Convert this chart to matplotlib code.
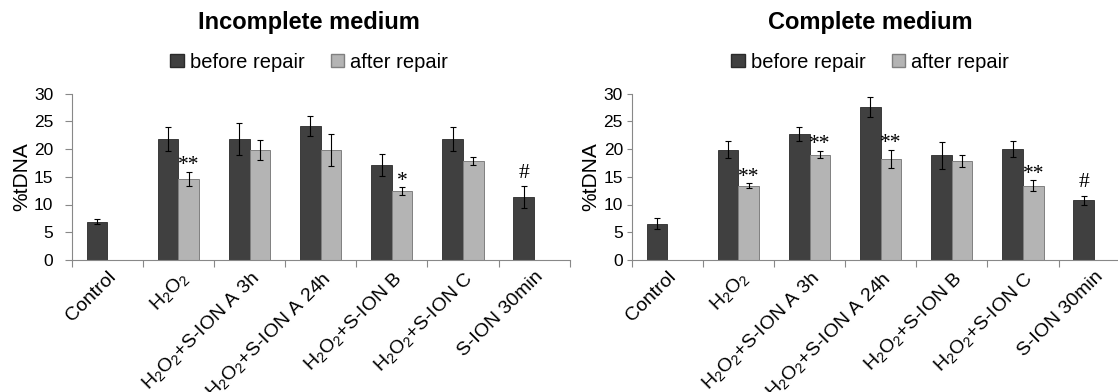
import matplotlib
matplotlib.use("Agg")
import matplotlib.pyplot as plt
import matplotlib.patches as mpatches
import numpy as np

plt.rcParams['font.family'] = ['Liberation Sans', 'DejaVu Sans']
plt.rcParams['mathtext.fontset'] = 'custom'
plt.rcParams['mathtext.rm'] = 'Liberation Sans'

# data
labels = ['Control', r'$\mathregular{H_2O_2}$',
          r'$\mathregular{H_2O_2}$+S-ION A 3h', r'$\mathregular{H_2O_2}$+S-ION A 24h',
          r'$\mathregular{H_2O_2}$+S-ION B', r'$\mathregular{H_2O_2}$+S-ION C', 'S-ION 30min']

inc_before = [6.9, 21.8, 21.8, 24.1, 17.1, 21.8, 11.3]
inc_before_err = [0.5, 2.2, 2.8, 1.8, 2.0, 2.2, 2.0]
inc_after = [np.nan, 14.6, 19.8, 19.8, 12.4, 17.8, np.nan]
inc_after_err = [np.nan, 1.3, 1.8, 2.9, 0.7, 0.7, np.nan]
inc_marks = [(1, 'after', '**'), (4, 'after', '*'), (6, 'before', '#')]

com_before = [6.5, 19.9, 22.7, 27.6, 18.85, 20.0, 10.8]
com_before_err = [1.0, 1.5, 1.2, 1.8, 2.5, 1.5, 0.8]
com_after = [np.nan, 13.4, 19.0, 18.25, 17.9, 13.4, np.nan]
com_after_err = [np.nan, 0.45, 0.7, 1.6, 1.1, 0.95, np.nan]
com_marks = [(1, 'after', '**'), (2, 'after', '**'), (3, 'after', '**'),
             (5, 'after', '**'), (6, 'before', '#')]

dark = '#404040'
light = '#b4b4b4'
spine = '#888888'
w = 0.29
mark_lift = {'*': 1, '**': 1, '#': 6}

W, H = 1118, 392
fig = plt.figure(figsize=(W / 100, H / 100), dpi=100)


def panel(left, title, before, before_err, after, after_err, marks, tx,
          ytick_len, ytick_pad):
    ax = fig.add_axes([left / W, 1 - 260 / H, 498 / W, 166.5 / H])
    x = np.arange(len(labels)) + 0.5
    ax.bar(x - w / 2, before, w, color=dark, edgecolor='#2a2a2a', linewidth=0.6, zorder=2)
    ax.bar(x + w / 2, after, w, color=light, edgecolor='#808080', linewidth=0.7, zorder=2)
    ekw = dict(fmt='none', ecolor='black', elinewidth=0.8, capsize=2.5, capthick=0.8, zorder=3)
    ax.errorbar(x - w / 2, before, yerr=before_err, **ekw)
    ax.errorbar(x + w / 2, after, yerr=after_err, **ekw)
    for i, which, sym in marks:
        if which == 'after':
            xx, yy = x[i] + w / 2, after[i] + after_err[i]
        else:
            xx, yy = x[i] - w / 2, before[i] + before_err[i]
        ax.annotate(sym, (xx, yy), xytext=(0, mark_lift[sym]), textcoords='offset points',
                    ha='center', va='baseline', fontsize=15.5, family='Liberation Serif')
    ax.set_xlim(0, len(labels))
    ax.set_ylim(0, 30)
    ax.set_yticks(np.arange(0, 31, 5))
    ax.set_xticks(np.arange(len(labels) + 1))
    ax.set_xticklabels([])
    ax.set_xticks(x, minor=True)
    ax.set_xticklabels(labels, minor=True, rotation=45, ha='right',
                       rotation_mode='anchor', fontsize=14)
    ax.tick_params(axis='x', which='minor', length=0, pad=6)
    ax.tick_params(axis='x', which='major', length=5, color=spine, direction='out')
    ax.tick_params(axis='y', length=ytick_len, color=spine, labelsize=12.5, pad=ytick_pad)
    for s in ['top', 'right']:
        ax.spines[s].set_visible(False)
    for s in ['left', 'bottom']:
        ax.spines[s].set_color(spine)
    ax.set_ylabel('%tDNA', fontsize=15, labelpad=2)
    fig.text(tx, 1 - 23 / H, title, ha='center', va='center',
             fontsize=17, fontweight='bold')
    handles = [mpatches.Patch(facecolor=dark, edgecolor='#2a2a2a', label='before repair'),
               mpatches.Patch(facecolor=light, edgecolor='#808080', label='after repair')]
    ax.legend(handles=handles, ncol=2, loc='center', frameon=False,
              bbox_to_anchor=(tx, 1 - 62 / H), bbox_transform=fig.transFigure,
              fontsize=14.5, handlelength=0.65, handleheight=0.65, handletextpad=0.3,
              columnspacing=1.3, borderaxespad=0)
    return ax


panel(71.7, 'Incomplete medium', inc_before, inc_before_err, inc_after, inc_after_err,
      inc_marks, 309 / W, 4.8, 8.5)
panel(631.7, 'Complete medium', com_before, com_before_err, com_after, com_after_err,
      com_marks, 870 / W, 3.6, 2.7)

fig.savefig('out.png', dpi=100)
